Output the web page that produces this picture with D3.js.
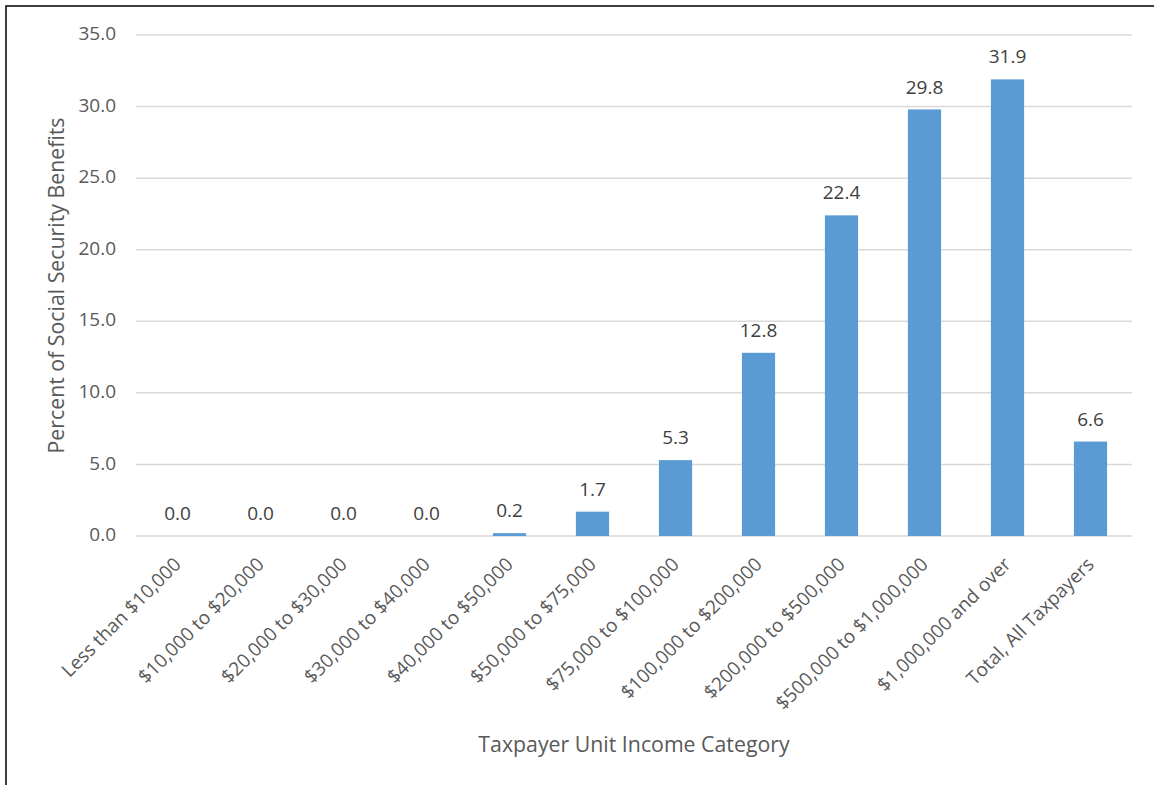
<!DOCTYPE html>
<html>
<head>
<meta charset="utf-8">
<script src="https://cdn.jsdelivr.net/npm/d3@7"></script>
<style>
  body { margin: 0; background: #fff; }
  svg { display: block; font-family: "Open Sans", sans-serif; }
</style>
</head>
<body>
<svg id="chart" width="1154" height="785"></svg>
<script>
const categories = [
  'Less than $10,000', '$10,000 to $20,000', '$20,000 to $30,000', '$30,000 to $40,000',
  '$40,000 to $50,000', '$50,000 to $75,000', '$75,000 to $100,000', '$100,000 to $200,000',
  '$200,000 to $500,000', '$500,000 to $1,000,000', '$1,000,000 and over', 'Total, All Taxpayers'
];
const values = [0.0, 0.0, 0.0, 0.0, 0.2, 1.7, 5.3, 12.8, 22.4, 29.8, 31.9, 6.6];
const yTicks = [0, 5, 10, 15, 20, 25, 30, 35];

const width = 1154, height = 785;
const margin = { top: 35, right: 22, bottom: 249, left: 136 };

const svg = d3.select('#chart');

// outer frame (only left and top edges visible in the picture)
svg.append('rect')
  .attr('x', 6).attr('y', 6)
  .attr('width', width + 10).attr('height', height + 10)
  .attr('fill', 'none').attr('stroke', '#000').attr('stroke-width', 1.5);

const x = d3.scaleBand()
  .domain(categories)
  .range([margin.left, width - margin.right])
  .paddingInner(0.6).paddingOuter(0.3);

const y = d3.scaleLinear()
  .domain([0, 35])
  .range([height - margin.bottom, margin.top]);

// gridlines
svg.append('g')
  .selectAll('line')
  .data(yTicks)
  .join('line')
  .attr('x1', margin.left).attr('x2', width - margin.right)
  .attr('y1', d => y(d)).attr('y2', d => y(d))
  .attr('stroke', '#d9d9d9').attr('stroke-width', 1.5);

// y tick labels
svg.append('g')
  .selectAll('text')
  .data(yTicks)
  .join('text')
  .attr('x', margin.left - 20)
  .attr('y', d => y(d))
  .attr('text-anchor', 'end')
  .attr('dominant-baseline', 'middle')
  .attr('fill', '#595959')
  .style('font-size', '19px')
  .text(d => d3.format('.1f')(d));

// bars
svg.append('g')
  .selectAll('rect')
  .data(values)
  .join('rect')
  .attr('x', (d, i) => x(categories[i]))
  .attr('y', d => y(d))
  .attr('width', x.bandwidth())
  .attr('height', d => y(0) - y(d))
  .attr('fill', '#5b9bd5');

// value labels
svg.append('g')
  .selectAll('text')
  .data(values)
  .join('text')
  .attr('x', (d, i) => x(categories[i]) + x.bandwidth() / 2)
  .attr('y', d => y(d) - 21)
  .attr('text-anchor', 'middle')
  .attr('dominant-baseline', 'middle')
  .attr('fill', '#404040')
  .style('font-size', '19px')
  .text(d => d3.format('.1f')(d));

// x category labels, rotated
svg.append('g')
  .selectAll('text')
  .data(categories)
  .join('text')
  .attr('transform', d => `translate(${x(d) + x.bandwidth() / 2 + 1},${y(0) + 26}) rotate(-45)`)
  .attr('text-anchor', 'end')
  .attr('dominant-baseline', 'middle')
  .attr('fill', '#595959')
  .style('font-size', '19px')
  .text(d => d);

// axis titles
svg.append('text')
  .attr('x', (margin.left + width - margin.right) / 2)
  .attr('y', 752)
  .attr('text-anchor', 'middle')
  .attr('fill', '#595959')
  .style('font-size', '21.3px')
  .text('Taxpayer Unit Income Category');

svg.append('text')
  .attr('transform', `translate(64,${(margin.top + height - margin.bottom) / 2}) rotate(-90)`)
  .attr('text-anchor', 'middle')
  .attr('fill', '#595959')
  .style('font-size', '21.3px')
  .text('Percent of Social Security Benefits');
</script>
</body>
</html>
